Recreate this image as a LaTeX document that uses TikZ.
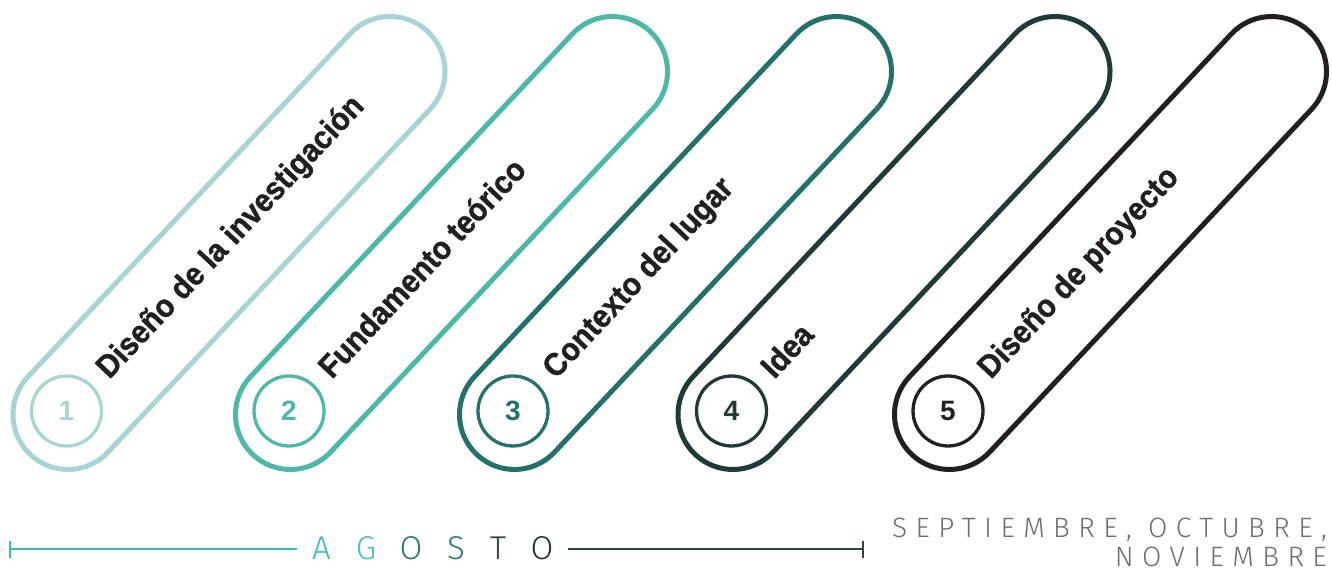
\documentclass[tikz,border=0pt]{standalone}
\usepackage{fontspec}
\setmainfont{Liberation Sans}
\newfontfamily\lblfont{Liberation Sans}[FakeStretch=0.93,FakeBold=1.2]
\newfontfamily\lightfont{Fira Sans Light}
\newfontfamily\spacedfont{Fira Sans Light}[LetterSpace=30]
\usetikzlibrary{calc,positioning}
\definecolor{mint}{HTML}{A8D4D3}
\definecolor{teal}{HTML}{4DB8A7}
\definecolor{pine}{HTML}{24716A}
\definecolor{deep}{HTML}{1F3A38}
\definecolor{ink}{HTML}{231F20}
\definecolor{aqua}{HTML}{35BFB0}
\definecolor{aqualt}{HTML}{4CC3B6}
\definecolor{sea}{HTML}{2B7A72}
\definecolor{slate}{HTML}{2C4644}
\definecolor{night}{HTML}{223837}
\definecolor{fog}{HTML}{6D6E71}

\begin{document}
\begin{tikzpicture}[x=1pt,y=1pt,
  stad/.style={draw,line width=5pt,rectangle,rounded corners=55pt,minimum width=580.5pt,minimum height=110pt,inner sep=0pt,rotate=46.8},
  numc/.style={draw,circle,line width=3.3pt,minimum size=70pt,inner sep=0pt,font=\fontsize{28}{28}\selectfont\bfseries},
  lbl/.style={rotate=46.8,anchor=base west,inner sep=0pt,text=ink,font=\lblfont\fontsize{32}{32}\selectfont\bfseries},
  month/.style={anchor=base,inner sep=0pt,font=\lightfont\fontsize{33}{33}\selectfont},
  rest/.style={anchor=base east,inner sep=0pt,text=fog,font=\spacedfont\fontsize{28}{28}\selectfont}]
 \useasboundingbox(0,0)rectangle(1332,577);
 % etapas
 \foreach \cx/\col/\n/\txt in {66.5/mint/1/{Diseño de la investigación},289/teal/2/{Fundamento teórico},513/pine/3/{Contexto del lugar},731.5/deep/4/Idea,948/ink/5/{Diseño de proyecto}}{
  \node[stad,draw=\col](s\n)at(\cx+162.5,334){};
  \node[numc,draw=\col,text=\col](c\n)at(\cx,166){\n};
  \node[lbl](t\n)at($(c\n)+(46.8:52)+(-43.2:10)$){\txt};
 }
 % linea de tiempo
 \node[month,text=aqua](m1)at(321.5,17){A};
 \node[month,text=aqualt](m2)at(366,17){G};
 \node[month,text=sea](m3)at(411,17){O};
 \node[month,text=sea](m4)at(456,17){S};
 \node[month,text=slate](m5)at(498,17){T};
 \node[month,text=night](m6)at(542,17){O};
 \coordinate(a0)at(10,27.7);
 \coordinate(a1)at(297,27.7);
 \coordinate(b0)at(568,27.7);
 \coordinate(b1)at(863,27.7);
 \draw[aqua,line width=2pt](a0)--(a1);
 \draw[aqua,line width=2.5pt](a0)++(0,-8.5)--++(0,17);
 \draw[slate,line width=2pt](b0)--(b1);
 \draw[slate,line width=2.5pt](b1)++(0,-8.5)--++(0,17);
 \node[rest](r1)at(1327,39){SEPTIEMBRE, OCTUBRE,};
 \node[rest](r2)at(1327,10){NOVIEMBRE};
\end{tikzpicture}
\end{document}
